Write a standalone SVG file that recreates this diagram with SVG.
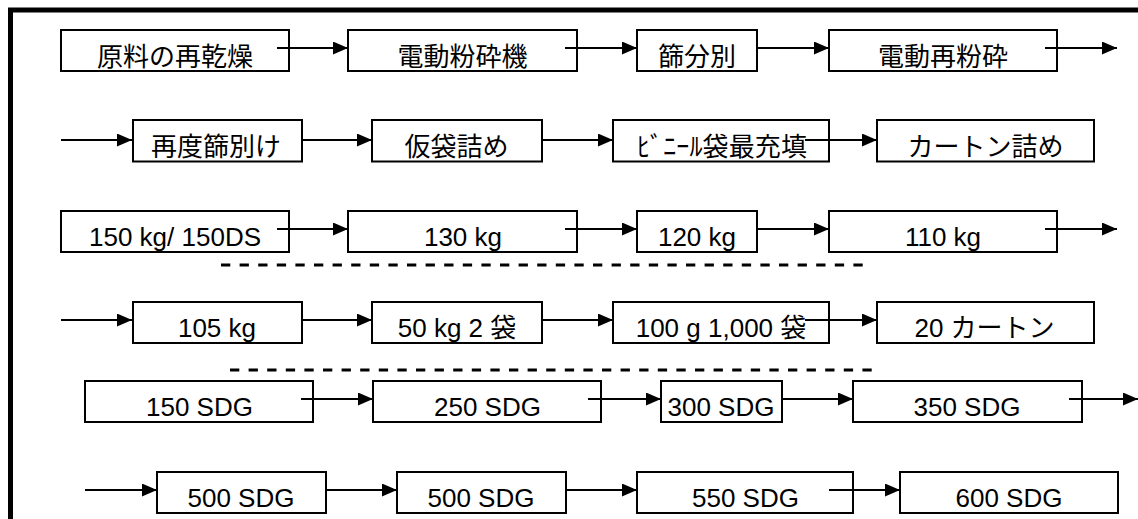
<svg xmlns="http://www.w3.org/2000/svg" width="1138" height="519" viewBox="0 0 1138 519">
<defs>
<style>
.box{fill:#fff;stroke:#000;stroke-width:2}
.t{font-family:"Liberation Sans","Noto Sans CJK JP",sans-serif;font-size:26px;fill:#000;text-anchor:middle}
.c{stroke:#000;stroke-width:1.8;fill:none;marker-end:url(#ah)}
.d{stroke:#000;stroke-width:3;stroke-dasharray:9.3 9.3;fill:none}
</style>
<marker id="ah" markerUnits="userSpaceOnUse" markerWidth="16" markerHeight="14" refX="15" refY="6.5" orient="auto">
<path d="M0,0 L15,6.5 L0,13 Z" fill="#000"/>
</marker>
</defs>
<rect width="1138" height="519" fill="#fff"/>
<path d="M10.5,530 V10 H1150" stroke="#000" stroke-width="5" fill="none"/>

<g id="n1"><rect class="box" x="61" y="30" width="228" height="41"/><text class="t" x="175" y="65.5">原料の再乾燥</text></g>
<g id="n2"><rect class="box" x="348" y="30" width="229" height="41"/><text class="t" x="462.5" y="65.5">電動粉砕機</text></g>
<g id="n3"><rect class="box" x="637" y="30" width="120" height="41"/><text class="t" x="697" y="65.5">篩分別</text></g>
<g id="n4"><rect class="box" x="829" y="30" width="228" height="41"/><text class="t" x="943" y="65.5">電動再粉砕</text></g>

<g id="n5"><rect class="box" x="133" y="120" width="169" height="41.5"/><text class="t" x="216" y="155.5">再度篩別け</text></g>
<g id="n6"><rect class="box" x="372" y="120" width="170" height="41.5"/><text class="t" x="456.5" y="155.5">仮袋詰め</text></g>
<g id="n7"><rect class="box" x="613" y="120" width="216" height="41.5"/><text class="t" x="722" y="155.5" textLength="170" lengthAdjust="spacing">ﾋﾞﾆｰﾙ袋最充填</text></g>
<g id="n8"><rect class="box" x="877" y="120" width="217" height="41.5"/><text class="t" x="985.5" y="155.5">カートン詰め</text></g>

<g id="n9"><rect class="box" x="61" y="211" width="228" height="41"/><text class="t" x="175" y="246">150 kg/ 150DS</text></g>
<g id="n10"><rect class="box" x="348" y="211" width="229" height="41"/><text class="t" x="463" y="246">130 kg</text></g>
<g id="n11"><rect class="box" x="637" y="211" width="120" height="41"/><text class="t" x="697" y="246">120 kg</text></g>
<g id="n12"><rect class="box" x="829" y="211" width="228" height="41"/><text class="t" x="943" y="246">110 kg</text></g>

<g id="n13"><rect class="box" x="133" y="302" width="169" height="41"/><text class="t" x="217" y="337">105 kg</text></g>
<g id="n14"><rect class="box" x="372" y="302" width="170" height="41"/><text class="t" x="457" y="337">50 kg 2 袋</text></g>
<g id="n15"><rect class="box" x="613" y="302" width="216" height="41"/><text class="t" x="721" y="337">100 g 1,000 袋</text></g>
<g id="n16"><rect class="box" x="877" y="302" width="217" height="41"/><text class="t" x="984.5" y="337">20 カートン</text></g>

<g id="n17"><rect class="box" x="85" y="381" width="228" height="41"/><text class="t" x="199.5" y="416">150 SDG</text></g>
<g id="n18"><rect class="box" x="373" y="381" width="228" height="41"/><text class="t" x="487.5" y="416">250 SDG</text></g>
<g id="n19"><rect class="box" x="661" y="381" width="121" height="41"/><text class="t" x="721" y="416">300 SDG</text></g>
<g id="n20"><rect class="box" x="853" y="381" width="229" height="41"/><text class="t" x="967" y="416">350 SDG</text></g>

<g id="n21"><rect class="box" x="157" y="472" width="169" height="41"/><text class="t" x="241" y="507">500 SDG</text></g>
<g id="n22"><rect class="box" x="397" y="472" width="169" height="41"/><text class="t" x="481" y="507">500 SDG</text></g>
<g id="n23"><rect class="box" x="637" y="472" width="216" height="41"/><text class="t" x="745.5" y="507">550 SDG</text></g>
<g id="n24"><rect class="box" x="900" y="472" width="218" height="41"/><text class="t" x="1009" y="507">600 SDG</text></g>

<g id="connectors">
<line class="c" x1="277" y1="48" x2="348" y2="48"/>
<line class="c" x1="565" y1="48" x2="637" y2="48"/>
<line class="c" x1="757" y1="48" x2="829" y2="48"/>
<line class="c" x1="1045" y1="48" x2="1117" y2="48"/>
<line class="c" x1="61" y1="140" x2="132" y2="140"/>
<line class="c" x1="302" y1="140" x2="372" y2="140"/>
<line class="c" x1="542" y1="140" x2="613" y2="140"/>
<line class="c" x1="805" y1="140" x2="877" y2="140"/>
<line class="c" x1="277" y1="229" x2="348" y2="229"/>
<line class="c" x1="565" y1="229" x2="637" y2="229"/>
<line class="c" x1="757" y1="229" x2="829" y2="229"/>
<line class="c" x1="1045" y1="229" x2="1117" y2="229"/>
<line class="c" x1="61" y1="320" x2="132" y2="320"/>
<line class="c" x1="302" y1="320" x2="372" y2="320"/>
<line class="c" x1="542" y1="320" x2="613" y2="320"/>
<line class="c" x1="805" y1="320" x2="877" y2="320"/>
<line class="c" x1="301" y1="399" x2="373" y2="399"/>
<line class="c" x1="588" y1="399" x2="661" y2="399"/>
<line class="c" x1="782" y1="399" x2="853" y2="399"/>
<line class="c" x1="1069" y1="399" x2="1138" y2="399"/>
<line class="c" x1="85" y1="490" x2="157" y2="490"/>
<line class="c" x1="326" y1="490" x2="397" y2="490"/>
<line class="c" x1="566" y1="490" x2="637" y2="490"/>
<line class="c" x1="829" y1="490" x2="900" y2="490"/>
<line class="d" x1="221" y1="265" x2="866" y2="265"/>
<line class="d" x1="230" y1="370" x2="875" y2="370"/>
</g>
</svg>
